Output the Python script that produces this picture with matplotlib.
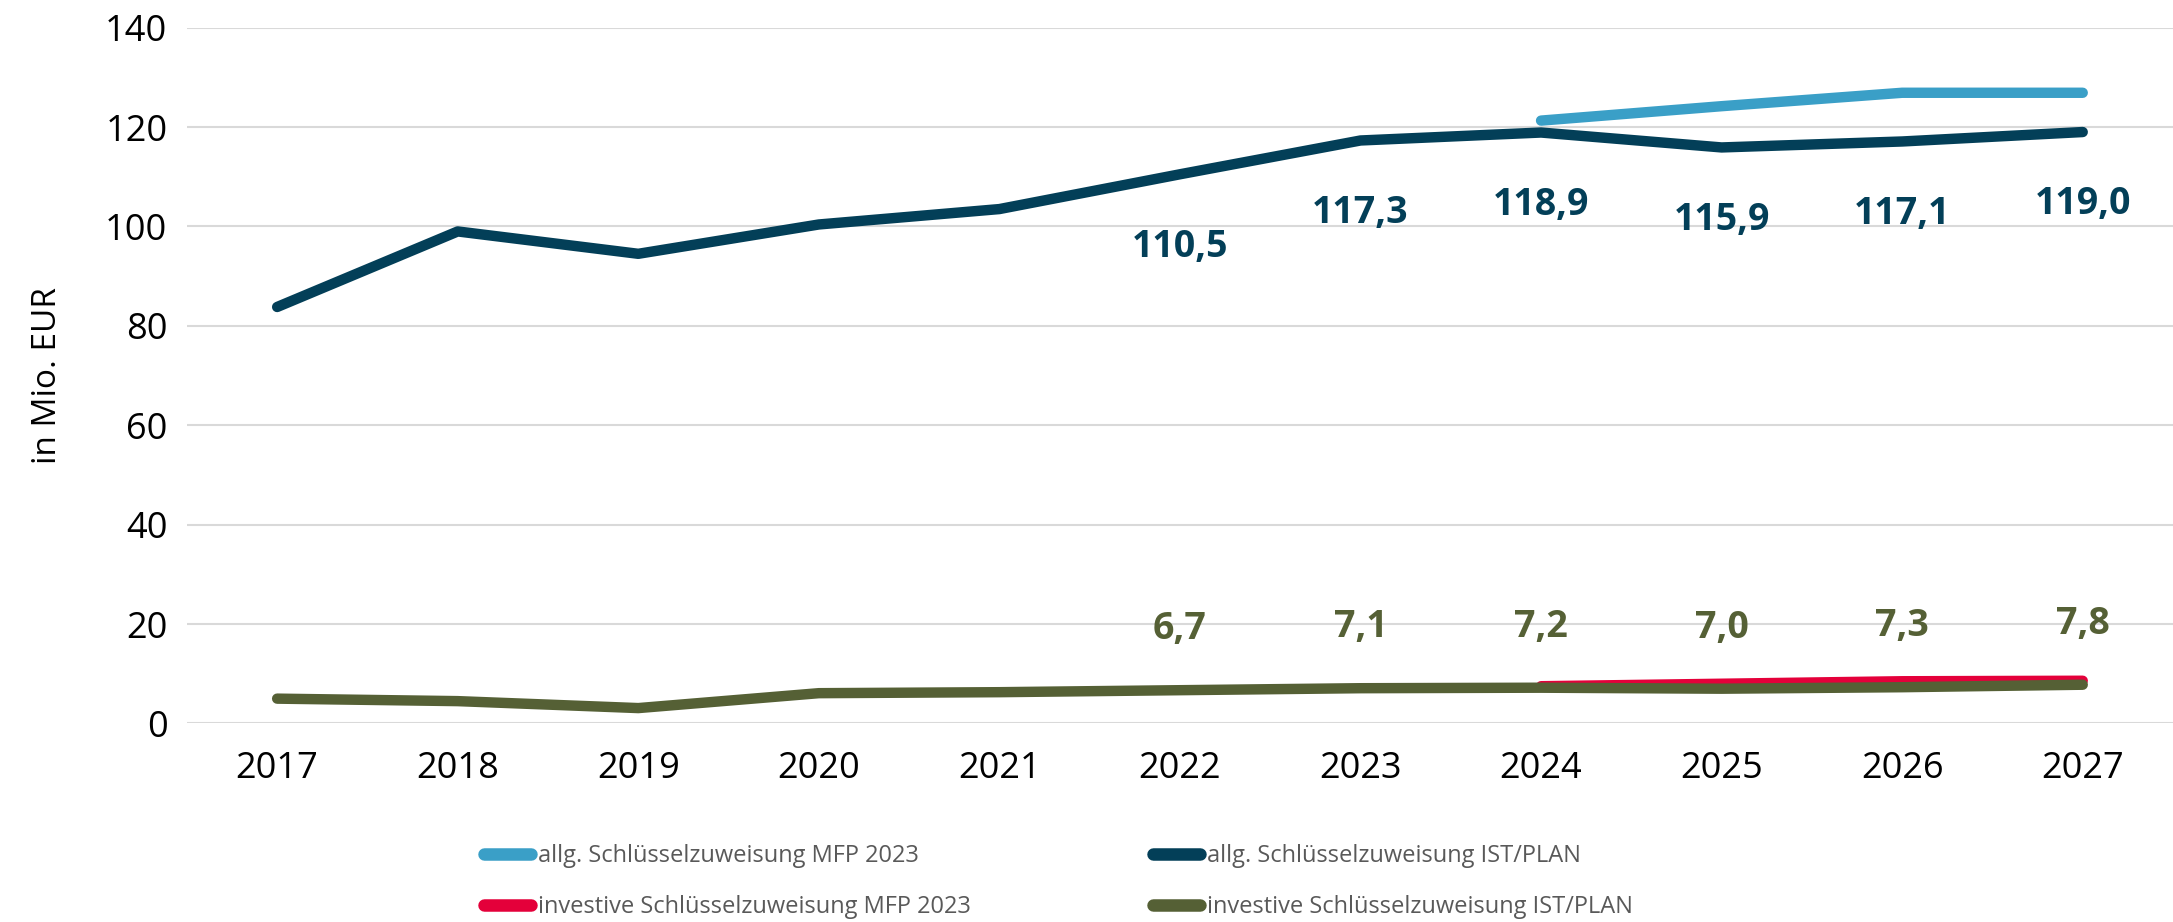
"""Schlüsselzuweisungen: IST/PLAN vs. MFP 2023."""
import matplotlib

matplotlib.use("Agg")
import matplotlib.pyplot as plt
import numpy as np

years = ["2017", "2018", "2019", "2020", "2021", "2022", "2023", "2024", "2025", "2026", "2027"]

allg_mfp = [None, None, None, None, None, None, None, 121.3, 124.2, 126.9, 126.9]
allg_ist = [83.8, 99.0, 94.5, 100.4, 103.5, 110.5, 117.3, 118.9, 115.9, 117.1, 119.0]
inv_mfp = [None, None, None, None, None, None, None, 7.5, 8.0, 8.5, 8.6]
inv_ist = [5.0, 4.5, 3.1, 6.1, 6.3, 6.7, 7.1, 7.2, 7.0, 7.3, 7.8]

# labelled years (index from 2022 on)
label_from = 5

C_LIGHT = "#3a9fc7"
C_DARK = "#033f58"
C_RED = "#e4003a"
C_OLIVE = "#556035"

plt.rcParams["font.family"] = ["Open Sans", "DejaVu Sans"]

fig = plt.figure(figsize=(21.73, 9.22), dpi=100)
ax = fig.add_axes([0.086, 0.2153, 0.914, 0.7547])

x = np.arange(len(years))


def to_arr(vals):
    return np.array([np.nan if v is None else v for v in vals], dtype=float)


lw = 7.5
l1, = ax.plot(x, to_arr(allg_mfp), color=C_LIGHT, lw=lw, solid_capstyle="round",
              label="allg. Schlüsselzuweisung MFP 2023", zorder=3)
l2, = ax.plot(x, to_arr(allg_ist), color=C_DARK, lw=lw, solid_capstyle="round",
              label="allg. Schlüsselzuweisung IST/PLAN", zorder=4)
l3, = ax.plot(x, to_arr(inv_mfp), color=C_RED, lw=lw, solid_capstyle="round",
              label="investive Schlüsselzuweisung MFP 2023", zorder=3)
l4, = ax.plot(x, to_arr(inv_ist), color=C_OLIVE, lw=lw, solid_capstyle="round",
              label="investive Schlüsselzuweisung IST/PLAN", zorder=4)


def fmt(v):
    return f"{v:.1f}".replace(".", ",")


for i in range(label_from, len(years)):
    ax.annotate(fmt(allg_ist[i]), (x[i], allg_ist[i]), xytext=(0, -52),
                textcoords="offset points", ha="center", va="center",
                fontsize=27, fontweight="bold", color=C_DARK)
    ax.annotate(fmt(inv_ist[i]), (x[i], inv_ist[i]), xytext=(0, 44),
                textcoords="offset points", ha="center", va="center",
                fontsize=27, fontweight="bold", color=C_OLIVE)

ax.set_xlim(-0.5, len(years) - 0.5)
ax.set_ylim(0, 140)
ax.set_yticks(range(0, 141, 20))
ax.set_xticks(x)
ax.set_xticklabels(years)
ax.tick_params(axis="both", length=0, labelsize=26, colors="black")
ax.tick_params(axis="x", pad=20)
ax.tick_params(axis="y", pad=14)
ax.grid(axis="y", color="#d9d9d9", lw=1.5)
ax.set_axisbelow(True)
for s in ax.spines.values():
    s.set_visible(False)
ax.set_ylabel("in Mio. EUR", fontsize=24, labelpad=30)

# column-wise fill -> order so rows read MFP / IST pairs
handles = [l1, l3, l2, l4]
leg = fig.legend(handles, [h.get_label() for h in handles],
                 loc="lower left", bbox_to_anchor=(0.213, -0.02), ncol=2,
                 frameon=False, fontsize=17, handlelength=2.0, handletextpad=0.3,
                 columnspacing=7.7, labelspacing=1.15, labelcolor="#595959")
for h in leg.get_lines():
    h.set_linewidth(9)
    h.set_solid_capstyle("round")

fig.savefig("out.png", dpi=100)
